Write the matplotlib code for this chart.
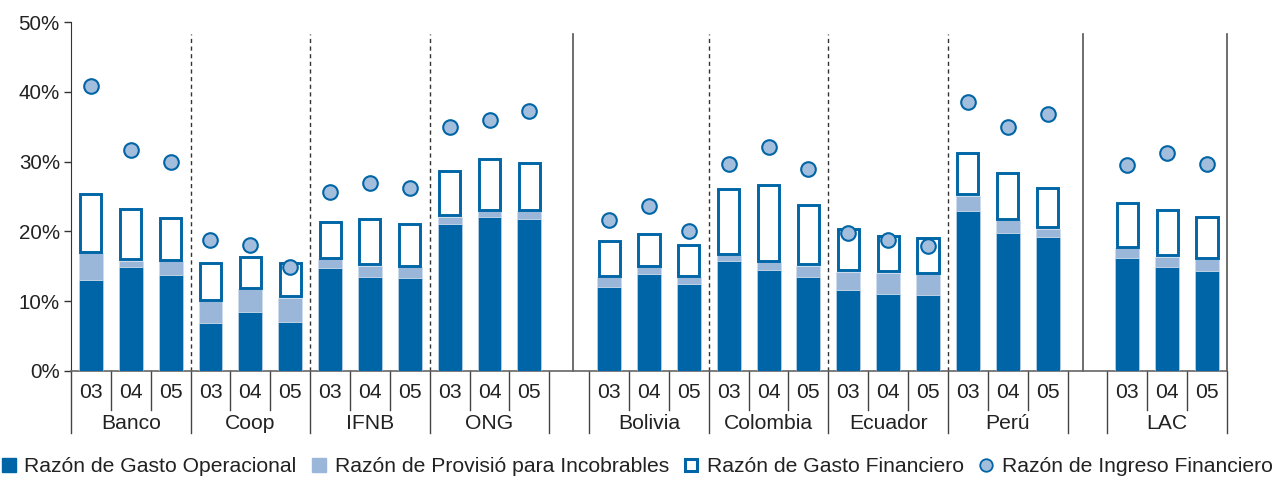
import numpy as np
import matplotlib.pyplot as plt
from matplotlib.lines import Line2D
from matplotlib.ticker import FuncFormatter
from matplotlib.transforms import blended_transform_factory

plt.rcParams['font.family'] = ['Liberation Sans', 'DejaVu Sans']

groups = ["Banco", "Coop", "IFNB", "ONG", "Bolivia", "Colombia", "Ecuador", "Perú", "LAC"]
years = ["03", "04", "05"]

# valores en % por grupo (03, 04, 05)
gasto_operacional = [
    [13.1, 14.9, 13.7], [6.9, 8.4, 7.0], [14.7, 13.4, 13.3], [21.1, 22.0, 21.8],
    [12.0, 13.9, 12.4], [15.7, 14.4, 13.5], [11.6, 11.0, 10.9], [22.9, 19.8, 19.2],
    [16.2, 14.9, 14.3],
]
provision_incobrables = [
    [3.8, 0.9, 2.0], [3.1, 3.3, 3.5], [1.3, 1.7, 1.6], [1.0, 0.9, 1.1],
    [1.4, 1.0, 1.0], [0.9, 1.2, 1.6], [2.6, 3.1, 3.0], [2.2, 1.8, 1.2],
    [1.4, 1.5, 1.7],
]
gasto_financiero = [
    [8.6, 7.6, 6.4], [5.7, 4.9, 5.2], [5.5, 6.9, 6.3], [6.7, 7.7, 7.1],
    [5.4, 4.9, 4.9], [9.7, 11.3, 8.9], [6.4, 5.4, 5.4], [6.3, 6.9, 6.0],
    [6.6, 6.9, 6.3],
]
ingreso_financiero = [
    [40.8, 31.7, 29.9], [18.8, 18.0, 14.9], [25.7, 27.0, 26.2], [35.0, 36.0, 37.2],
    [21.6, 23.7, 20.1], [29.6, 32.1, 29.0], [19.7, 18.7, 17.9], [38.5, 35.0, 36.8],
    [29.5, 31.3, 29.7],
]

DARK = "#0065a6"
LIGHT = "#9ab7da"
DOT = "#a3bddd"
FS = 15.2

# primer slot de cada grupo: hueco entre tipos de institución, países y LAC
starts = [3 * i + (i >= 4) + (i >= 8) for i in range(len(groups))]
n_slots = starts[-1] + 3

op = np.array(gasto_operacional).ravel()
prov = np.array(provision_incobrables).ravel()
fin = np.array(gasto_financiero).ravel()
inc = np.array(ingreso_financiero).ravel()
x = np.array([s + j + 0.5 for s in starts for j in range(3)])

fig = plt.figure(figsize=(12.74, 4.79), dpi=100)
ax = fig.add_axes([0.0557, 0.2255, 0.9074, 0.7285])

ax.bar(x, op, width=0.6, color=DARK, edgecolor="#cfdcec", linewidth=0.4, zorder=3)
ax.bar(x, prov, bottom=op, width=0.6, color=LIGHT, edgecolor="#cfdcec", linewidth=0.4, zorder=3)
pad = 0.2
ax.bar(x, fin - 2 * pad, bottom=op + prov + pad, width=0.53, color="white",
       edgecolor=DARK, linewidth=2.1, zorder=3)
ax.plot(x, inc, linestyle="none", marker="o", markersize=10.5, markerfacecolor=DOT,
        markeredgecolor=DARK, markeredgewidth=1.5, zorder=4)

ax.set_xlim(0, n_slots)
ax.set_ylim(0, 50)
ax.yaxis.set_major_formatter(FuncFormatter(lambda v, _: f"{v:.0f}%"))
ax.set_yticks(np.arange(0, 51, 10))
ax.tick_params(axis="y", labelsize=14.8, length=5, width=1, color="#333333", pad=3,
               labelcolor="#222222")
ax.set_xticks([])
for s in ["top", "right"]:
    ax.spines[s].set_visible(False)
ax.spines["left"].set_color("#333333")
ax.spines["bottom"].set_color("#666666")
ax.spines["bottom"].set_linewidth(1.2)

# separadores verticales dentro del área del gráfico
top_line = 48.3
for b in [3, 6, 9, 16, 19, 22]:
    ax.plot([b, b], [0, top_line], color="#333333", linestyle=(0, (3, 2.5)), linewidth=1, zorder=1)
for b in [12.6, 25.4, n_slots]:
    ax.plot([b, b], [0, top_line], color="#555555", linewidth=1.2, zorder=1, clip_on=False)

# etiquetas del eje x en dos niveles
tr = blended_transform_factory(ax.transData, ax.transAxes)
long_edges = set()
for s in starts:
    long_edges.update([s, s + 3])
for b in range(n_slots + 1):
    if b in long_edges:
        ax.plot([b, b], [0, -0.178], transform=tr, color="#444444", linewidth=1, clip_on=False)
    elif any(s < b < s + 3 for s in starts):
        ax.plot([b, b], [0, -0.112], transform=tr, color="#444444", linewidth=1, clip_on=False)

for i, s in enumerate(starts):
    for j, yr in enumerate(years):
        ax.text(s + j + 0.5, -0.062, yr, transform=tr, ha="center", va="center",
                fontsize=FS, color="#222222")
    ax.text(s + 1.5, -0.15, groups[i], transform=tr, ha="center", va="center",
            fontsize=FS, color="#222222")

handles = [
    Line2D([], [], linestyle="none", marker="s", markersize=10, markerfacecolor=DARK, markeredgecolor=DARK),
    Line2D([], [], linestyle="none", marker="s", markersize=10, markerfacecolor=LIGHT, markeredgecolor=LIGHT),
    Line2D([], [], linestyle="none", marker="s", markersize=8.5, markerfacecolor="white",
           markeredgecolor=DARK, markeredgewidth=2.2),
    Line2D([], [], linestyle="none", marker="o", markersize=9, markerfacecolor=DOT,
           markeredgecolor=DARK, markeredgewidth=1.3),
]
labels = [
    "Razón de Gasto Operacional",
    "Razón de Provisió para Incobrables",
    "Razón de Gasto Financiero",
    "Razón de Ingreso Financiero",
]
fig.legend(handles, labels, loc="center", bbox_to_anchor=(0.5, 1 - 467 / 479), ncol=4,
           frameon=False, fontsize=FS, handlelength=0.7, handletextpad=0.4,
           columnspacing=0.7, labelcolor="#222222", borderpad=0.1)

fig.savefig("out.png", dpi=100)
